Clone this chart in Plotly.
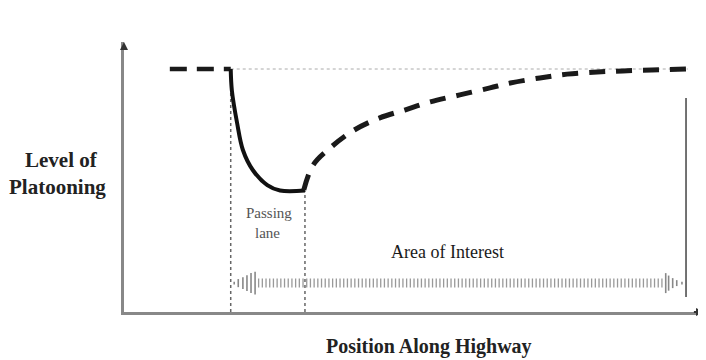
import plotly.graph_objects as go

# Schematic data (position along highway 0-100, level of platooning 0-100)
upstream_x = [7.9, 18.4]
upstream_y = [90, 90]

passing_x = [18.4, 18.6, 19.5, 20.5, 22.2, 24.7, 26.9, 31.2]
passing_y = [90, 82, 70, 60, 52.6, 47, 45, 45]

recovery_x = [31.0, 32.6, 35.5, 39.7, 44.1, 48.4, 52.8, 57.9, 63.1, 66.6,
              71.7, 76.4, 81.6, 86.0, 91.0, 97.2]
recovery_y = [45.2, 54.4, 60.7, 67.4, 71.9, 74.8, 77.8, 80.4, 83.0, 84.8,
              86.7, 88.1, 88.9, 89.3, 89.6, 90.0]

reference_level = 90
lane_start, lane_end = 18.4, 31.2
bottom_level = 45
interest_end = 96.9
interest_top, interest_bottom = 79.3, 5.6
interest_y = 10.7
shaft_x = [23.1, 92.9]
left_head_x = [19.0, 19.7, 20.5, 21.2, 21.9, 22.6]
left_head_h = [1.1, 3.0, 4.4, 5.9, 7.4, 8.5]
right_head_x = [93.4, 93.9, 94.6, 95.3, 96.2]
right_head_h = [7.4, 5.6, 3.7, 2.2, 1.1]

fig = go.Figure()

# reference dotted line
fig.add_trace(go.Scatter(x=[lane_start, recovery_x[-1]], y=[reference_level, reference_level],
                         mode="lines", line=dict(color="#aaaaaa", width=1, dash="dot"),
                         hoverinfo="skip"))
# vertical dotted lines
fig.add_trace(go.Scatter(x=[lane_start, lane_start], y=[0, reference_level], mode="lines",
                         line=dict(color="#666666", width=1.5, dash="dot"), hoverinfo="skip"))
fig.add_trace(go.Scatter(x=[lane_end, lane_end], y=[0, bottom_level], mode="lines",
                         line=dict(color="#666666", width=1.5, dash="dot"), hoverinfo="skip"))
# area of interest end line
fig.add_trace(go.Scatter(x=[interest_end, interest_end], y=[interest_bottom, interest_top],
                         mode="lines", line=dict(color="#444444", width=1.5), hoverinfo="skip"))
# hatched arrow shaft
fig.add_trace(go.Scatter(x=shaft_x, y=[interest_y, interest_y], mode="lines",
                         line=dict(color="#999999", width=9, dash="1.3px,2.4px"),
                         hoverinfo="skip"))
# curves
fig.add_trace(go.Scatter(x=upstream_x, y=upstream_y, mode="lines",
                         line=dict(color="#1a1a1a", width=4.5, dash="17px,10px")))
fig.add_trace(go.Scatter(x=passing_x, y=passing_y, mode="lines",
                         line=dict(color="#111111", width=4, shape="spline")))
fig.add_trace(go.Scatter(x=recovery_x, y=recovery_y, mode="lines",
                         line=dict(color="#1a1a1a", width=5, dash="16px,11px", shape="spline")))

shapes = []
for hx, hh in list(zip(left_head_x, left_head_h)) + list(zip(right_head_x, right_head_h)):
    shapes.append(dict(type="line", xref="x", yref="y", x0=hx, x1=hx,
                       y0=interest_y - hh / 2, y1=interest_y + hh / 2,
                       line=dict(color="#888888", width=1.6)))

serif = "Liberation Serif, Times New Roman, serif"
title_font = dict(family=serif, size=21, color="#222222")
annotations = [
    dict(x=-0.107, y=0.563, xref="paper", yref="paper", text="<b>Level of</b>", showarrow=False,
         xanchor="center", yanchor="middle", font=title_font),
    dict(x=-0.114, y=0.463, xref="paper", yref="paper", text="<b>Platooning</b>", showarrow=False,
         xanchor="center", yanchor="middle", font=title_font),
    dict(x=0.526, y=-0.127, xref="paper", yref="paper", text="<b>Position Along Highway</b>",
         showarrow=False, xanchor="center", yanchor="middle",
         font=dict(family=serif, size=20, color="#222222")),
    dict(x=55.7, y=22.2, text="Area of Interest", showarrow=False,
         xanchor="center", yanchor="middle",
         font=dict(family=serif, size=18, color="#1a1a1a")),
    dict(x=25.0, y=36.7, text="Passing", showarrow=False,
         xanchor="center", yanchor="middle",
         font=dict(family=serif, size=15, color="#555555")),
    dict(x=24.8, y=29.3, text="lane", showarrow=False,
         xanchor="center", yanchor="middle",
         font=dict(family=serif, size=15, color="#555555")),
    # axis arrowheads
    dict(x=0, y=100, ax=0, ay=97, xref="x", yref="y", axref="x", ayref="y",
         showarrow=True, arrowhead=2, arrowsize=0.8, arrowwidth=2, arrowcolor="#333333", text=""),
    dict(x=100, y=0, ax=98, ay=0, xref="x", yref="y", axref="x", ayref="y",
         showarrow=True, arrowhead=2, arrowsize=0.8, arrowwidth=2, arrowcolor="#333333", text=""),
]

# page body has an 8px margin, so the figure is shrunk and margins reduced by 8px
fig.update_layout(
    width=698, height=352,
    margin=dict(l=116, r=2, t=34, b=48),
    paper_bgcolor="white", plot_bgcolor="white",
    showlegend=False,
    shapes=shapes,
    annotations=annotations,
    xaxis=dict(range=[0, 100], showgrid=False, zeroline=False, showticklabels=False,
               ticks="", showline=True, linecolor="#888888", linewidth=2.5, fixedrange=True),
    yaxis=dict(range=[0, 100], showgrid=False, zeroline=False, showticklabels=False,
               ticks="", showline=True, linecolor="#888888", linewidth=2.5, fixedrange=True),
)

fig.write_html("out.html")
